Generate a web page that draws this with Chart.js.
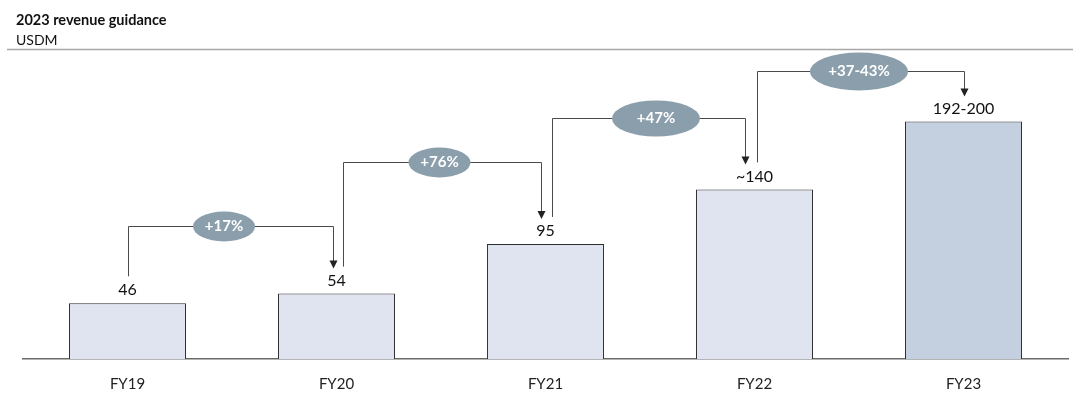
<!DOCTYPE html>
<html>
<head>
<meta charset="utf-8">
<script src="https://cdn.jsdelivr.net/npm/chart.js@4"></script>
<style>
  html,body{margin:0;padding:0;background:#fff;}
  #wrap{width:1080px;height:395px;position:relative;}
</style>
</head>
<body>
<div id="wrap"><canvas id="c" width="1080" height="395"></canvas></div>
<script>
const categories = ["FY19", "FY20", "FY21", "FY22", "FY23"];
const revenue = [46, 54, 95, 140, 196];
const valueLabels = ["46", "54", "95", "~140", "192-200"];
const growthLabels = ["+17%", "+76%", "+47%", "+37-43%"];
const titleText = "2023 revenue guidance";
const unitText = "USDM";

const FONT = "Lato, 'Open Sans', 'Noto Sans', sans-serif";

const fills = revenue.map((v, i) => i === revenue.length - 1 ? "#c4cfe0" : "#e0e4f0");

const headerPlugin = {
  id: "header",
  afterDraw(chart) {
    const ctx = chart.ctx;
    ctx.save();
    ctx.fillStyle = "#111";
    ctx.textBaseline = "middle";
    ctx.textAlign = "left";
    ctx.font = "bold 14.5px " + FONT;
    ctx.fillText(titleText, 16, 20);
    ctx.font = "14px " + FONT;
    ctx.fillText(unitText, 16, 40);
    ctx.strokeStyle = "#a8a8a8";
    ctx.lineWidth = 1.5;
    ctx.beginPath();
    ctx.moveTo(7, 49.5);
    ctx.lineTo(1073, 49.5);
    ctx.stroke();
    ctx.restore();
  }
};

const labelPlugin = {
  id: "valueLabels",
  afterDatasetsDraw(chart) {
    const ctx = chart.ctx;
    const meta = chart.getDatasetMeta(0);
    ctx.save();
    ctx.fillStyle = "#111";
    ctx.font = "16px " + FONT;
    ctx.textAlign = "center";
    ctx.textBaseline = "middle";
    meta.data.forEach((bar, i) => {
      ctx.fillText(valueLabels[i], bar.x, bar.y - 13);
    });
    ctx.restore();
  }
};

const bracketPlugin = {
  id: "brackets",
  afterDatasetsDraw(chart, args, opts) {
    const ctx = chart.ctx;
    const xs = chart.scales.x, ys = chart.scales.y;
    ctx.save();
    for (let i = 0; i < growthLabels.length; i++) {
      const x1 = xs.getPixelForValue(i) + opts.startOffset[i];
      const x2 = xs.getPixelForValue(i + 1) + opts.endOffset[i];
      const yStart = ys.getPixelForValue(revenue[i]) - 27;
      const yEnd = ys.getPixelForValue(revenue[i + 1]) - 25;
      const yl = Math.round(ys.getPixelForValue(opts.levels[i])) + 0.5;
      ctx.strokeStyle = "#4a4a4a";
      ctx.lineWidth = 1;
      ctx.beginPath();
      ctx.moveTo(Math.round(x1) + 0.5, yStart);
      ctx.lineTo(Math.round(x1) + 0.5, yl);
      ctx.lineTo(Math.round(x2) + 0.5, yl);
      ctx.lineTo(Math.round(x2) + 0.5, yEnd - 7);
      ctx.stroke();
      ctx.fillStyle = "#222";
      ctx.beginPath();
      const ax = Math.round(x2) + 0.5;
      ctx.moveTo(ax - 4, yEnd - 8);
      ctx.lineTo(ax + 4, yEnd - 8);
      ctx.lineTo(ax, yEnd);
      ctx.closePath();
      ctx.fill();
      const cx = (x1 + x2) / 2 + opts.ellipseShift[i];
      ctx.fillStyle = "#8a9eab";
      ctx.beginPath();
      ctx.ellipse(cx, yl, opts.ellipseW[i] / 2, opts.ellipseH[i] / 2, 0, 0, Math.PI * 2);
      ctx.fill();
      ctx.fillStyle = "#ffffff";
      ctx.font = "bold 15px " + FONT;
      ctx.textAlign = "center";
      ctx.textBaseline = "middle";
      ctx.fillText(growthLabels[i], cx, yl);
    }
    ctx.restore();
  }
};

new Chart(document.getElementById("c"), {
  type: "bar",
  data: {
    labels: categories,
    datasets: [{
      data: revenue,
      backgroundColor: fills,
      borderColor: "#2e2e2e",
      borderWidth: 1,
      barPercentage: 0.56,
      categoryPercentage: 1.0
    }]
  },
  options: {
    responsive: false,
    animation: false,
    events: [],
    layout: { padding: { left: 23, right: 12, top: 55, bottom: 0 } },
    plugins: {
      legend: { display: false },
      tooltip: { enabled: false },
      brackets: {
        levels: [110, 163, 199, 238],
        startOffset: [0, 6, 6, 2],
        endOffset: [-4, -5, -10, 0],
        ellipseShift: [-6, -2, 8, -1],
        ellipseW: [62, 62, 88, 98],
        ellipseH: [30, 30, 36, 38]
      }
    },
    scales: {
      x: {
        grid: { display: false },
        border: { display: true, color: "#6a6a6a", width: 1.5 },
        ticks: { color: "#222", font: { family: FONT, size: 15 }, padding: 8 },
        afterFit(s) { s.height = 36; }
      },
      y: {
        display: false,
        min: 0,
        max: 251
      }
    }
  },
  plugins: [headerPlugin, labelPlugin, bracketPlugin]
});
</script>
</body>
</html>
